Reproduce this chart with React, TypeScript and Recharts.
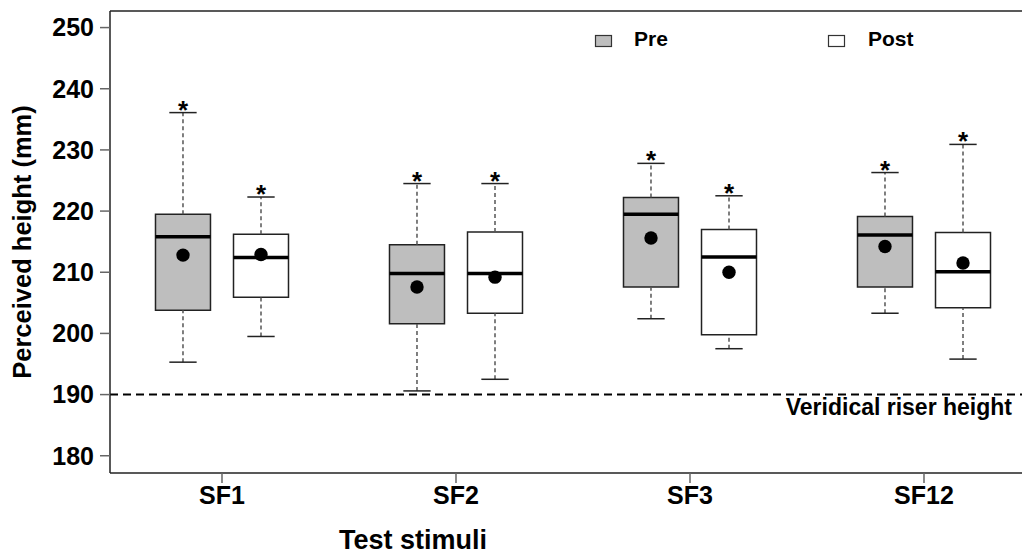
import React from 'react';
import {
  ComposedChart, XAxis, YAxis, Scatter, ReferenceArea, ReferenceLine, Legend,
} from 'recharts';

const categories = ['SF1', 'SF2', 'SF3', 'SF12'];
const preMin = [195.3, 190.6, 202.4, 203.3];
const preQ1 = [203.8, 201.6, 207.6, 207.6];
const preMedian = [215.8, 209.8, 219.5, 216.1];
const preQ3 = [219.5, 214.5, 222.2, 219.1];
const preMax = [236.1, 224.5, 227.8, 226.3];
const preMean = [212.8, 207.6, 215.6, 214.2];
const postMin = [199.5, 192.5, 197.5, 195.8];
const postQ1 = [205.9, 203.3, 199.8, 204.2];
const postMedian = [212.4, 209.8, 212.5, 210.1];
const postQ3 = [216.2, 216.6, 217.0, 216.5];
const postMax = [222.3, 224.5, 222.5, 230.9];
const postMean = [212.9, 209.2, 210.0, 211.5];
const yTicks = [180, 190, 200, 210, 220, 230, 240, 250];
const yDomain = [177.18, 252.71];
const xDomain = [0.5214, 4.453];
const VERIDICAL = 190;
const seriesNames = ['Pre', 'Post'];

const FONT = '"Liberation Sans", Arial, Helvetica, sans-serif';
const PRE_FILL = '#bebebe';
const POST_FILL = '#ffffff';
const OFFSET = 0.1667;
const HALF_BOX = 0.1175;
const HALF_CAP = 0.0584;

type Group = {
  name: string; fill: string; offset: number;
  min: number[]; q1: number[]; med: number[]; q3: number[]; max: number[]; mean: number[];
};

const groups: Group[] = [
  { name: seriesNames[0], fill: PRE_FILL, offset: -OFFSET, min: preMin, q1: preQ1, med: preMedian, q3: preQ3, max: preMax, mean: preMean },
  { name: seriesNames[1], fill: POST_FILL, offset: OFFSET, min: postMin, q1: postQ1, med: postMedian, q3: postQ3, max: postMax, mean: postMean },
];

const meanData = groups.flatMap((g) => categories.map((_, i) => ({ x: i + 1 + g.offset, y: g.mean[i] })));
const starData = groups.flatMap((g) => categories.map((_, i) => ({ x: i + 1 + g.offset, y: g.max[i] })));

const renderLegend = () => (
  <svg width={1022} height={60} style={{ display: 'block' }}>
    <rect x={587.5} y={27.5} width={16} height={11} fill={PRE_FILL} stroke="#333" strokeWidth={1.2} />
    <text x={626} y={38} fontFamily={FONT} fontWeight="bold" fontSize={21} fill="#000">{seriesNames[0]}</text>
    <rect x={820.5} y={27.5} width={16} height={11} fill={POST_FILL} stroke="#333" strokeWidth={1.2} />
    <text x={860} y={38} fontFamily={FONT} fontWeight="bold" fontSize={21} fill="#000">{seriesNames[1]}</text>
  </svg>
);

const renderYLabel = (props: any) => {
  const vb = props.viewBox || { x: 0, y: 3, width: 102, height: 462 };
  const cy = vb.y + vb.height / 2;
  return (
    <text transform={`translate(14, ${cy}) rotate(-90)`} textAnchor="middle" dominantBaseline="central"
      fontFamily={FONT} fontWeight="bold" fontSize={25.5} fill="#000">Perceived height (mm)</text>
  );
};

const renderXLabel = (props: any) => {
  const vb = props.viewBox || { x: 102, y: 465, width: 920, height: 82 };
  return (
    <text x={vb.x + vb.width / 2 - 157} y={vb.y + 76} textAnchor="middle"
      fontFamily={FONT} fontWeight="bold" fontSize={27} fill="#000">Test stimuli</text>
  );
};

const renderVeridical = (props: any) => {
  const vb = props.viewBox || {};
  const x = (vb.x ?? 102) + (vb.width ?? 920) - 18;
  const y = (vb.y ?? 387) + 20;
  return (
    <text x={x} y={y} textAnchor="end" fontFamily={FONT} fontWeight="bold" fontSize={23} fill="#000">
      Veridical riser height
    </text>
  );
};

export default function App() {
  return (
    <div style={{ width: 1022, height: 547, position: 'relative' }}>
      <ComposedChart width={1022} height={547} margin={{ top: 3, right: 0, bottom: 0, left: 0 }}>
        <XAxis
          xAxisId="bottom"
          type="number"
          dataKey="x"
          domain={xDomain}
          allowDataOverflow
          ticks={[1, 2, 3, 4]}
          tickFormatter={(v: number) => categories[Math.round(v) - 1] ?? ''}
          height={82}
          tickSize={10}
          tickMargin={3}
          axisLine={{ stroke: '#222', strokeWidth: 1.5 }}
          tickLine={{ stroke: '#666', strokeWidth: 1.5 }}
          tick={{ fill: '#000', fontSize: 25, fontWeight: 'bold', fontFamily: FONT }}
          label={{ content: renderXLabel }}
        />
        <YAxis
          type="number"
          dataKey="y"
          domain={yDomain}
          allowDataOverflow
          ticks={yTicks}
          width={102}
          tickSize={10}
          tickMargin={6}
          axisLine={{ stroke: '#222', strokeWidth: 1.5 }}
          tickLine={{ stroke: '#666', strokeWidth: 1.5 }}
          tick={{ fill: '#000', fontSize: 25, fontWeight: 'bold', fontFamily: FONT }}
          label={{ content: renderYLabel }}
        />
        <Legend layout="horizontal" verticalAlign="middle" align="center" content={renderLegend}
          wrapperStyle={{ position: 'absolute', top: 0, left: 0, width: 1022, height: 60 }} />

        <ReferenceLine xAxisId="bottom" y={yDomain[1]} stroke="#222" strokeWidth={1.5} ifOverflow="visible" />

        <ReferenceLine xAxisId="bottom" y={VERIDICAL} stroke="#000" strokeWidth={2} strokeDasharray="8 5"
          label={{ content: renderVeridical }} />

        {groups.flatMap((g) =>
          categories.map((c, i) => {
            const cx = i + 1 + g.offset;
            return (
              <ReferenceLine key={`wl-${g.name}-${c}`} xAxisId="bottom"
                segment={[{ x: cx, y: g.min[i] }, { x: cx, y: g.q1[i] }]}
                stroke="#555" strokeWidth={1.5} strokeDasharray="4 3" />
            );
          })
        )}
        {groups.flatMap((g) =>
          categories.map((c, i) => {
            const cx = i + 1 + g.offset;
            return (
              <ReferenceLine key={`wh-${g.name}-${c}`} xAxisId="bottom"
                segment={[{ x: cx, y: g.q3[i] }, { x: cx, y: g.max[i] }]}
                stroke="#555" strokeWidth={1.5} strokeDasharray="4 3" />
            );
          })
        )}
        {groups.flatMap((g) =>
          categories.map((c, i) => {
            const cx = i + 1 + g.offset;
            return (
              <ReferenceLine key={`cl-${g.name}-${c}`} xAxisId="bottom"
                segment={[{ x: cx - HALF_CAP, y: g.min[i] }, { x: cx + HALF_CAP, y: g.min[i] }]}
                stroke="#222" strokeWidth={1.5} />
            );
          })
        )}
        {groups.flatMap((g) =>
          categories.map((c, i) => {
            const cx = i + 1 + g.offset;
            return (
              <ReferenceLine key={`ch-${g.name}-${c}`} xAxisId="bottom"
                segment={[{ x: cx - HALF_CAP, y: g.max[i] }, { x: cx + HALF_CAP, y: g.max[i] }]}
                stroke="#222" strokeWidth={1.5} />
            );
          })
        )}
        {groups.flatMap((g) =>
          categories.map((c, i) => {
            const cx = i + 1 + g.offset;
            return (
              <ReferenceArea key={`box-${g.name}-${c}`} xAxisId="bottom"
                x1={cx - HALF_BOX} x2={cx + HALF_BOX} y1={g.q1[i]} y2={g.q3[i]}
                fill={g.fill} fillOpacity={1} stroke="#222" strokeWidth={1.5} />
            );
          })
        )}
        {groups.flatMap((g) =>
          categories.map((c, i) => {
            const cx = i + 1 + g.offset;
            return (
              <ReferenceLine key={`med-${g.name}-${c}`} xAxisId="bottom"
                segment={[{ x: cx - HALF_BOX, y: g.med[i] }, { x: cx + HALF_BOX, y: g.med[i] }]}
                stroke="#000" strokeWidth={3.5} />
            );
          })
        )}

        <Scatter xAxisId="bottom" data={meanData} isAnimationActive={false}
          shape={(p: any) => <circle cx={p.cx} cy={p.cy} r={6.7} fill="#000" />} />
        <Scatter xAxisId="bottom" data={starData} isAnimationActive={false}
          shape={(p: any) => (
            <text x={p.cx} y={p.cy + 6} textAnchor="middle" fontFamily={FONT} fontWeight="bold" fontSize={26} fill="#000">*</text>
          )} />
      </ComposedChart>
    </div>
  );
}
